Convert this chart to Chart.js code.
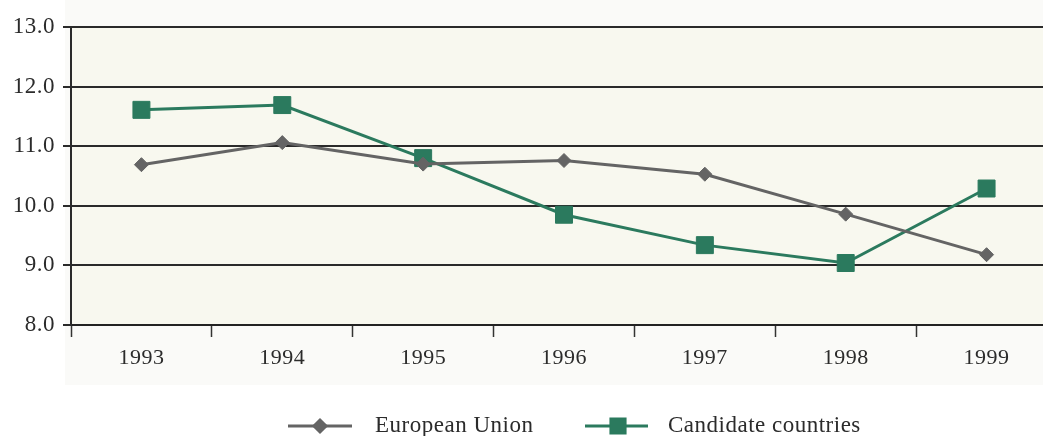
<!DOCTYPE html>
<html>
<head>
<meta charset="utf-8">
<script src="https://cdn.jsdelivr.net/npm/chart.js@4/dist/chart.umd.min.js"></script>
<style>
  html, body { margin: 0; padding: 0; background: #ffffff; overflow: hidden; }
  #wrap { width: 1070px; height: 436px; position: relative; }
</style>
</head>
<body>
<div id="wrap"><canvas id="c" width="1070" height="436"></canvas></div>
<script>
// Years on the horizontal axis
const years = ['1993', '1994', '1995', '1996', '1997', '1998', '1999'];
// Series values
const europeanUnion = [10.69, 11.06, 10.70, 10.76, 10.53, 9.86, 9.18];
const candidateCountries = [11.61, 11.69, 10.80, 9.85, 9.34, 9.04, 10.29];
// Vertical axis ticks
const yTicks = [8.0, 9.0, 10.0, 11.0, 12.0, 13.0];

const seriesNames = ['European Union', 'Candidate countries'];
const greyCol = '#646464';
const tealCol = '#2b7a5e';
const textCol = '#2b2b2b';
const serif = '"Liberation Serif", "DejaVu Serif", serif';

// Soft paper tint behind the plot and the year labels; slightly wider type
const backdrop = {
  id: 'backdrop',
  beforeDraw(chart) {
    const { ctx, chartArea } = chart;
    ctx.letterSpacing = '0.5px';
    ctx.save();
    ctx.fillStyle = '#fafaf8';
    ctx.fillRect(65, 0, chart.width - 65, 385);
    ctx.fillStyle = '#f8f8ef';
    ctx.fillRect(chartArea.left, chartArea.top, chartArea.right - chartArea.left, chartArea.bottom - chartArea.top);
    ctx.restore();
  }
};

// Legend drawn as a short line with the series marker in its middle
const lineLegend = {
  id: 'lineLegend',
  afterDraw(chart) {
    const { ctx } = chart;
    const items = [
      { ds: chart.data.datasets[0], x0: 288, x1: 352, mx: 320, tx: 375 },
      { ds: chart.data.datasets[1], x0: 585, x1: 648, mx: 618, tx: 668 }
    ];
    const y = 426;
    ctx.save();
    items.forEach(it => {
      ctx.strokeStyle = it.ds.borderColor;
      ctx.lineWidth = 3;
      ctx.beginPath();
      ctx.moveTo(it.x0, y);
      ctx.lineTo(it.x1, y);
      ctx.stroke();
      Chart.helpers.drawPoint(ctx, {
        pointStyle: it.ds.pointStyle,
        radius: it.ds.pointStyle === 'rect' ? 10 : 6,
        borderWidth: 1
      }, it.mx, y);
      ctx.fillStyle = it.ds.borderColor;
      ctx.fill();
      ctx.fillStyle = textCol;
      ctx.font = '23px ' + serif;
      ctx.letterSpacing = '0.5px';
      ctx.textBaseline = 'middle';
      ctx.textAlign = 'left';
      ctx.fillText(it.ds.label, it.tx, y);
    });
    ctx.restore();
  }
};

new Chart(document.getElementById('c'), {
  type: 'line',
  data: {
    labels: years,
    datasets: [
      {
        label: seriesNames[0],
        data: europeanUnion,
        borderColor: greyCol,
        backgroundColor: greyCol,
        borderWidth: 3,
        pointStyle: 'rectRot',
        pointRadius: 7,
        pointBorderWidth: 1,
        tension: 0
      },
      {
        label: seriesNames[1],
        data: candidateCountries,
        borderColor: tealCol,
        backgroundColor: tealCol,
        borderWidth: 3,
        pointStyle: 'rect',
        pointRadius: 12,
        pointBorderWidth: 1,
        tension: 0
      }
    ]
  },
  options: {
    responsive: false,
    animation: false,
    layout: { padding: { top: 27, right: 2, bottom: 51, left: 0 } },
    plugins: {
      legend: { display: false },
      tooltip: { enabled: false }
    },
    scales: {
      x: {
        offset: true,
        grid: {
          offset: true,
          drawOnChartArea: false,
          drawTicks: true,
          tickLength: 12,
          tickWidth: 1.5,
          tickColor: '#333333'
        },
        border: { display: true, color: '#222222', width: 2 },
        ticks: {
          color: textCol,
          font: { family: serif, size: 22 },
          padding: 8,
          maxRotation: 0
        },
        afterFit(scale) { scale.height = 60; }
      },
      y: {
        min: 8,
        max: 13,
        afterBuildTicks(scale) { scale.ticks = yTicks.map(v => ({ value: v })); },
        grid: {
          color: '#2a2a2a',
          lineWidth: 2,
          drawTicks: true,
          tickLength: 8,
          tickColor: '#2a2a2a'
        },
        border: { display: true, color: '#2a2a2a', width: 2 },
        ticks: {
          color: textCol,
          font: { family: serif, size: 23 },
          padding: 8,
          callback: v => Number(v).toFixed(1)
        },
        afterFit(scale) { scale.width = 71; }
      }
    }
  },
  plugins: [backdrop, lineLegend]
});
</script>
</body>
</html>
